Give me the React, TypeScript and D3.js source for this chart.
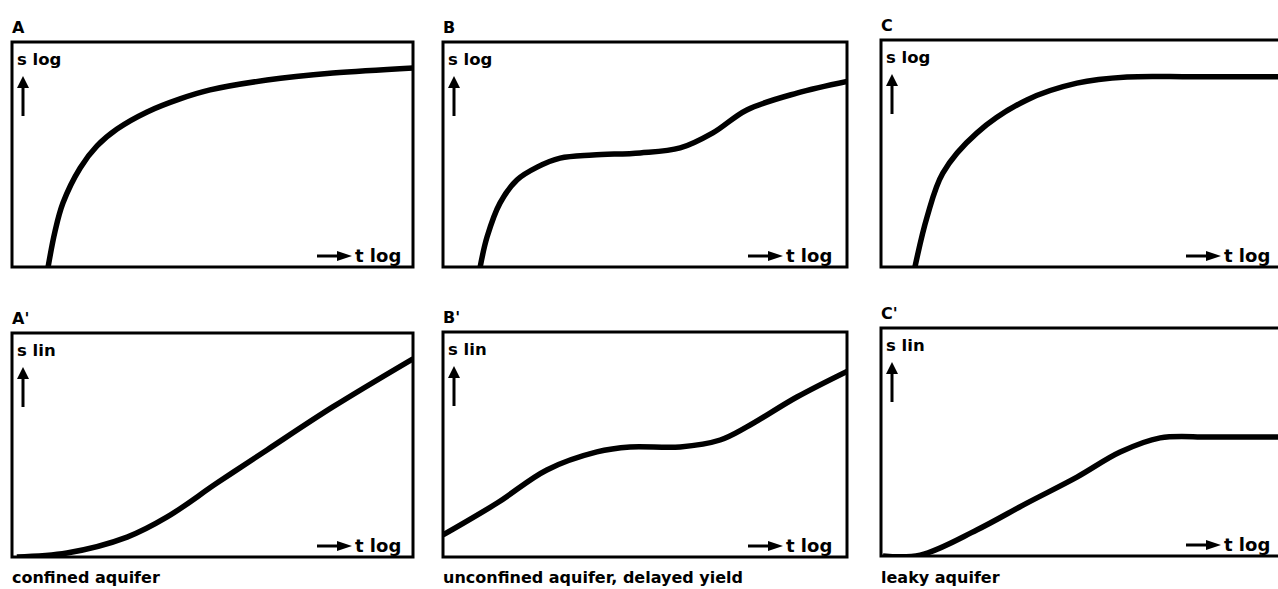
import React from "react";
import * as d3 from "d3";

// normalized t (log) positions and drawdown s values
const curveA: [number, number][] = [[0.09, 0], [0.107, 0.156], [0.127, 0.284], [0.17, 0.44], [0.212, 0.538], [0.262, 0.613], [0.337, 0.689], [0.419, 0.747], [0.494, 0.787], [0.636, 0.831], [0.8, 0.862], [1.0, 0.885]];
const curveB: [number, number][] = [[0.092, 0], [0.109, 0.133], [0.141, 0.284], [0.183, 0.387], [0.233, 0.444], [0.29, 0.484], [0.371, 0.498], [0.488, 0.507], [0.587, 0.529], [0.668, 0.596], [0.752, 0.698], [0.876, 0.773], [1.0, 0.825]];
const curveC: [number, number][] = [[0.084, 0], [0.114, 0.22], [0.153, 0.414], [0.237, 0.59], [0.361, 0.736], [0.485, 0.81], [0.609, 0.837], [0.772, 0.838], [1.0, 0.838]];
const curveA2: [number, number][] = [[0.012, 0], [0.137, 0.018], [0.287, 0.089], [0.387, 0.179], [0.511, 0.33], [0.636, 0.478], [0.8, 0.67], [1.0, 0.885]];
const curveB2: [number, number][] = [[0, 0.098], [0.134, 0.24], [0.257, 0.387], [0.381, 0.467], [0.463, 0.489], [0.587, 0.489], [0.686, 0.52], [0.752, 0.578], [0.876, 0.711], [1.0, 0.825]];
const curveC2: [number, number][] = [[0.005, 0], [0.097, 0.004], [0.237, 0.114], [0.361, 0.232], [0.485, 0.346], [0.592, 0.456], [0.691, 0.518], [0.814, 0.522], [1.0, 0.522]];

const panelLabels = ["A", "B", "C", "A'", "B'", "C'"];
const yLabels = ["s log", "s log", "s log", "s lin", "s lin", "s lin"];
const xLabel = "t log";
const captions = ["confined aquifer", "unconfined aquifer, delayed yield", "leaky aquifer"];
const curves = [curveA, curveB, curveC, curveA2, curveB2, curveC2];

const boxes = [
  { x0: 12, x1: 413, y0: 42, y1: 267 },
  { x0: 443, x1: 847, y0: 42, y1: 267 },
  { x0: 881, x1: 1285, y0: 40, y1: 267 },
  { x0: 12, x1: 413, y0: 333, y1: 557 },
  { x0: 443, x1: 847, y0: 332, y1: 557 },
  { x0: 881, x1: 1285, y0: 328, y1: 556 },
];

const FONT = "'DejaVu Sans', 'Liberation Sans', sans-serif";

function Panel({ i }: { i: number }) {
  const b = boxes[i];
  const x = d3.scaleLinear().domain([0, 1]).range([b.x0, b.x1]);
  const y = d3.scaleLinear().domain([0, 1]).range([b.y1, b.y0]);
  const line = d3.line<[number, number]>().x(d => x(d[0])).y(d => y(d[1])).curve(d3.curveCatmullRom.alpha(0.5));
  const clipId = `clip${i}`;
  return (
    <g>
      <defs>
        <clipPath id={clipId}>
          <rect x={b.x0} y={b.y0} width={b.x1 - b.x0} height={b.y1 - b.y0} />
        </clipPath>
      </defs>
      <text x={b.x0} y={b.y0 - 9} fontFamily={FONT} fontWeight="bold" fontSize={16} fill="#000">{panelLabels[i]}</text>
      <path d={line(curves[i]) || ""} fill="none" stroke="#000" strokeWidth={5.5} clipPath={`url(#${clipId})`} />
      <rect x={b.x0} y={b.y0} width={b.x1 - b.x0} height={b.y1 - b.y0} fill="none" stroke="#000" strokeWidth={3} />
      <text x={b.x0 + 5} y={b.y0 + 23} fontFamily={FONT} fontWeight="bold" fontSize={16.5} fill="#000">{yLabels[i]}</text>
      <line x1={b.x0 + 11} x2={b.x0 + 11} y1={b.y0 + 74} y2={b.y0 + 44} stroke="#000" strokeWidth={3} />
      <path d={`M${b.x0 + 5},${b.y0 + 46} L${b.x0 + 11},${b.y0 + 34} L${b.x0 + 17},${b.y0 + 46} Z`} fill="#000" />
      <line x1={b.x0 + 305} x2={b.x0 + 328} y1={b.y1 - 11} y2={b.y1 - 11} stroke="#000" strokeWidth={3} />
      <path d={`M${b.x0 + 325},${b.y1 - 16} L${b.x0 + 340},${b.y1 - 11} L${b.x0 + 325},${b.y1 - 6} Z`} fill="#000" />
      <text x={b.x0 + 343} y={b.y1 - 5} fontFamily={FONT} fontWeight="bold" fontSize={18} fill="#000">{xLabel}</text>
    </g>
  );
}

export default function App() {
  return (
    <svg width={1278} height={589} style={{ position: "absolute", left: 0, top: 0, background: "#fff" }}>
      <rect x={0} y={0} width={1278} height={589} fill="#fff" />
      {boxes.map((_, i) => <Panel key={i} i={i} />)}
      {captions.map((c, j) => (
        <text key={c} x={boxes[3 + j].x0} y={583} fontFamily={FONT} fontWeight="bold" fontSize={16} fill="#000">{c}</text>
      ))}
    </svg>
  );
}
